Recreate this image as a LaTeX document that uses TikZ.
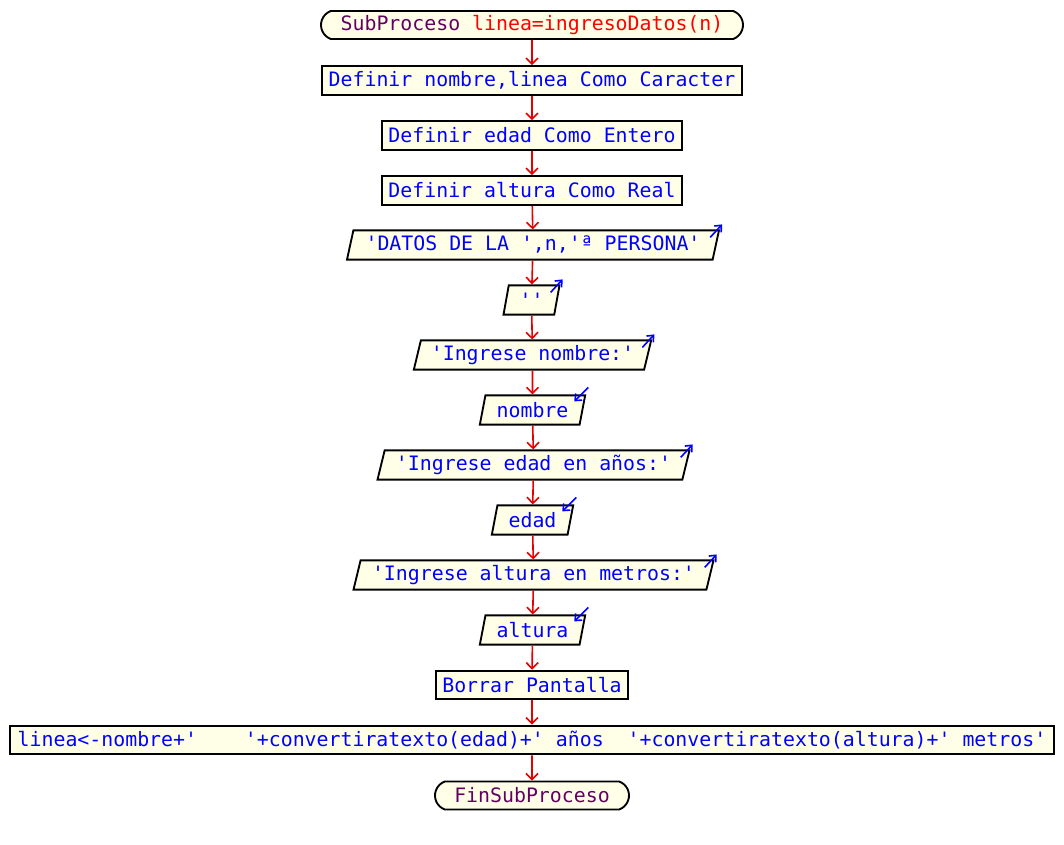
\documentclass[tikz,border=0pt]{standalone}
\usepackage{fontspec}
\setmonofont{DejaVu Sans Mono}
\usetikzlibrary{shapes.geometric,shapes.misc,arrows.meta}
\definecolor{boxfill}{RGB}{255,255,232}
\definecolor{kw}{RGB}{100,0,100}
\definecolor{txt}{RGB}{0,0,255}
\definecolor{flowred}{RGB}{230,0,0}
\tikzset{
  base/.style={draw=black, line width=1.4pt, fill=boxfill, inner sep=0pt,
    font=\ttfamily\fontsize{14.9}{18}\selectfont, text=txt, minimum height=21.5pt},
  term/.style={base, rounded rectangle, rounded rectangle arc length=140, text=kw},
  procbox/.style={base, rectangle},
  iobox/.style={base, trapezium, trapezium left angle=70, trapezium right angle=110,
    trapezium stretches body=true, minimum height=22pt},
  flow/.style={draw=flowred, line width=1.2pt, -{Straight Barb[length=4.5pt,width=9pt,line width=1.2pt]}},
  ioarrow/.style={draw=txt, line width=1.2pt, -{Straight Barb[length=4pt,width=7pt,line width=1.2pt]}}
}
\begin{document}
\begin{tikzpicture}[x=0.75pt,y=-0.75pt]
\useasboundingbox (0,0) rectangle (1064,845);
\node[term, minimum width=316.5pt, minimum height=21pt] (start) at (532,25) {SubProceso \textcolor{red}{linea=ingresoDatos(n)}};
\node[procbox, minimum width=315pt] (d1) at (532,80.5) {Definir nombre,linea Como Caracter};
\node[procbox, minimum width=225pt] (d2) at (532,135.5) {Definir edad Como Entero};
\node[procbox, minimum width=225pt] (d3) at (532,190.5) {Definir altura Como Real};
\node[iobox, minimum width=279pt] (o1) at (533,245) {'DATOS DE LA ',n,'ª PERSONA'};
\node[iobox, minimum width=42pt] (o2) at (531.5,300) {''};
\node[iobox, minimum width=178pt] (o3) at (532.5,355) {'Ingrese nombre:'};
\node[iobox, minimum width=79pt] (i1) at (532.5,410) {nombre};
\node[iobox, minimum width=234pt] (o4) at (533.5,465) {'Ingrese edad en años:'};
\node[iobox, minimum width=61pt] (i2) at (532.5,520) {edad};
\node[iobox, minimum width=270pt] (o5) at (533.5,575) {'Ingrese altura en metros:'};
\node[iobox, minimum width=79pt] (i3) at (532.5,630) {altura};
\node[procbox, minimum width=144pt] (bp) at (532,685) {Borrar Pantalla};
\node[procbox, minimum width=783pt] (asg) at (532,740) {linea<-nombre+'\ \ \ \ '+convertiratexto(edad)+' años\ \ '+convertiratexto(altura)+' metros'};
\node[term, minimum width=145.5pt, minimum height=21pt] (fin) at (532,795.5) {FinSubProceso};
\foreach \a/\b in {start/d1,d1/d2,d2/d3,d3/o1,o1/o2,o2/o3,o3/i1,i1/o4,o4/i2,i2/o5,o5/i3,i3/bp,bp/asg,asg/fin}
  \draw[flow] (\a) -- (\b);
\foreach \n in {o1,o2,o3,o4,o5}
  \draw[ioarrow] ([shift={(-10,8)}]\n.top right corner) -- ([shift={(2,-5)}]\n.top right corner);
\foreach \n in {i1,i2,i3}
  \draw[ioarrow] ([shift={(2,-7)}]\n.top right corner) -- ([shift={(-12,7)}]\n.top right corner);
\end{tikzpicture}
\end{document}
